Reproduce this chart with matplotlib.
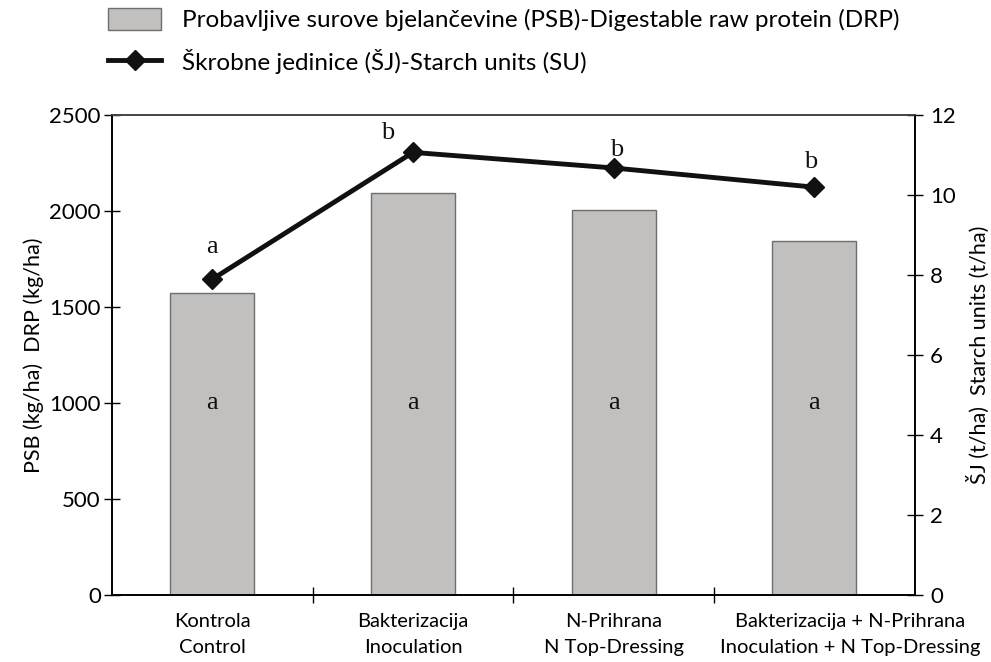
import matplotlib.pyplot as plt
from matplotlib.lines import Line2D
from matplotlib.patches import Patch

# podaci
kategorije = ["Kontrola\nControl", "Bakterizacija\nInoculation",
              "N-Prihrana\nN Top-Dressing",
              "Bakterizacija + N-Prihrana\nInoculation + N Top-Dressing"]
psb = [1573, 2094, 2005, 1844]          # kg/ha
sj = [7.9, 11.07, 10.68, 10.2]          # t/ha
slova_stupci = ["a", "a", "a", "a"]
slova_linija = ["a", "b", "b", "b"]

plt.rcParams['font.family'] = ['Lato', 'DejaVu Sans']

fig = plt.figure(figsize=(9.91, 6.62), dpi=100)
ax = fig.add_axes([0.113, 0.101, 0.81, 0.725])
ax2 = ax.twinx()

x = list(range(len(kategorije)))
ax.bar(x, psb, width=0.42, color='#c1c0be', edgecolor='#6e6e6e', linewidth=1.0, zorder=2)
for xi, s in zip(x, slova_stupci):
    ax.text(xi, 1000, s, ha='center', va='center', fontsize=19,
            family='Liberation Serif', color='#111111')

ax.set_xlim(-0.5, 3.5)
ax.set_ylim(0, 2500)
ax.set_yticks([0, 500, 1000, 1500, 2000, 2500])
ax.set_xticks([0.5, 1.5, 2.5])
ax.set_xticklabels([])
ax.tick_params(axis='x', direction='inout', length=12, width=1.0)
pomak_x = [0, 0, 0, 26]   # zadnja oznaka pomaknuta udesno (u tockama)
for xi, lab, dx in zip(x, kategorije, pomak_x):
    ax.annotate(lab, (xi, 0), xycoords=('data', 'axes fraction'),
                xytext=(dx, -13), textcoords='offset points', ha='center', va='top',
                fontsize=14.5, linespacing=1.6)
ax.tick_params(axis='y', direction='inout', length=12, width=1.0, labelsize=16, pad=2)
ax.set_ylabel("PSB (kg/ha)  DRP (kg/ha)", fontsize=15.5, labelpad=4)

ax2.plot(x, sj, color='#111111', linewidth=3.5, marker='D', markersize=10, zorder=3)
pomaci = [(0, 15), (-18, 6), (2, 5), (-3, 10)]
for xi, yi, s, p in zip(x, sj, slova_linija, pomaci):
    ax2.annotate(s, (xi, yi), xytext=p, textcoords='offset points', ha='center',
                 va='bottom', fontsize=19, family='Liberation Serif', color='#111111')
ax2.set_ylim(0, 12)
ax2.set_yticks([0, 2, 4, 6, 8, 10, 12])
ax2.tick_params(axis='y', direction='inout', length=12, width=1.0, labelsize=16, pad=5)
ax2.set_ylabel("ŠJ (t/ha)  Starch units (t/ha)", fontsize=15.5, labelpad=8)

for a in (ax, ax2):
    for sp in a.spines.values():
        sp.set_linewidth(1.2)
    a.spines['top'].set_color('#444444')

ruke = [Patch(facecolor='#c1c0be', edgecolor='#6e6e6e'),
        Line2D([0], [0], color='#111111', linewidth=3.5, marker='D', markersize=10)]
natpisi = ["Probavljive surove bjelančevine (PSB)-Digestable raw protein (DRP)",
           "Škrobne jedinice (ŠJ)-Starch units (SU)"]
fig.legend(ruke, natpisi, loc='upper left', bbox_to_anchor=(0.109, 0.988), frameon=False,
           fontsize=17.5, handlelength=2.2, handleheight=1.0, handletextpad=0.85,
           labelspacing=0.72, borderpad=0, borderaxespad=0)

fig.savefig("out.png", dpi=100)
